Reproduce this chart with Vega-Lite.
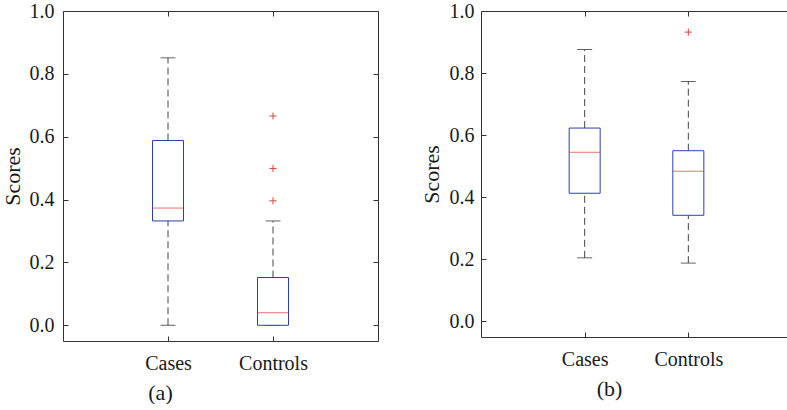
{
  "$schema": "https://vega.github.io/schema/vega-lite/v6.json",
  "padding": {"left": 0, "top": -15, "right": 0, "bottom": 0},
  "spacing": 40,
  "datasets": {
    "boxes": [
      {"panel": "a", "group": "Cases", "lo": 0.0, "q1": 0.332, "median": 0.373, "q3": 0.588, "hi": 0.851},
      {"panel": "a", "group": "Controls", "lo": 0.0, "q1": 0.0, "median": 0.040, "q3": 0.152, "hi": 0.332},
      {"panel": "b", "group": "Cases", "lo": 0.205, "q1": 0.413, "median": 0.545, "q3": 0.623, "hi": 0.876},
      {"panel": "b", "group": "Controls", "lo": 0.188, "q1": 0.342, "median": 0.484, "q3": 0.550, "hi": 0.773}
    ],
    "outliers": [
      {"panel": "a", "group": "Controls", "value": 0.666},
      {"panel": "a", "group": "Controls", "value": 0.499},
      {"panel": "a", "group": "Controls", "value": 0.396},
      {"panel": "b", "group": "Controls", "value": 0.932}
    ]
  },
  "config": {
    "font": "'Liberation Serif', 'Times New Roman', 'DejaVu Serif', serif",
    "view": {"stroke": "#333333", "strokeWidth": 1},
    "title": {"font": "'Liberation Serif', serif"},
    "axis": {
      "domain": false, "grid": false, "tickSize": -5, "tickColor": "#333333",
      "labelFont": "'Liberation Serif', 'Times New Roman', 'DejaVu Serif', serif", "labelFontSize": 20, "labelColor": "#1a1a1a",
      "titleFont": "'Liberation Serif', 'Times New Roman', 'DejaVu Serif', serif", "titleFontWeight": "normal", "titleFontSize": 22, "titleColor": "#1a1a1a"
    }
  },
  "hconcat": [
    {
      "width": 315, "height": 330,
      "title": {"text": " ", "fontSize": 1, "offset": 9},
      "data": {"name": "boxes"},
      "transform": [{"filter": "datum.panel === 'a'"}],
      "resolve": {"axis": {"x": "independent", "y": "independent"}},
      "layer": [
        {
          "mark": {"type": "rule", "color": "#444444", "strokeDash": [7, 4]},
          "encoding": {
            "x": {"field": "group", "type": "nominal", "scale": {"type": "point", "padding": 1, "domain": ["Cases", "Controls"]},
                  "axis": {"orient": "bottom", "title": "(a)", "titleFontSize": 22, "labelAngle": 0, "labelPadding": 17, "titleX": 97, "titlePadding": 9}},
            "y": {"field": "lo", "type": "quantitative", "scale": {"domain": [-0.05, 1.0], "nice": false, "zero": false},
                  "axis": {"orient": "left", "title": "Scores", "values": [0, 0.2, 0.4, 0.6, 0.8, 1.0], "format": ".1f", "labelPadding": 14, "titlePadding": 5}},
            "y2": {"field": "q1"}
          }
        },
        {
          "mark": {"type": "rule", "color": "#444444", "strokeDash": [7, 4]},
          "encoding": {
            "x": {"field": "group", "type": "nominal", "axis": {"orient": "top", "labels": false, "title": null, "minExtent": 0, "maxExtent": 0}},
            "y": {"field": "q3", "type": "quantitative", "axis": {"orient": "right", "labels": false, "title": null, "minExtent": 0, "maxExtent": 0, "values": [0, 0.2, 0.4, 0.6, 0.8, 1.0]}},
            "y2": {"field": "hi"}
          }
        },
        {
          "mark": {"type": "tick", "color": "#222222", "size": 15, "thickness": 1, "orient": "horizontal"},
          "encoding": {
            "x": {"field": "group", "type": "nominal", "axis": null},
            "y": {"field": "lo", "type": "quantitative", "axis": null}
          }
        },
        {
          "mark": {"type": "tick", "color": "#222222", "size": 15, "thickness": 1, "orient": "horizontal"},
          "encoding": {
            "x": {"field": "group", "type": "nominal", "axis": null},
            "y": {"field": "hi", "type": "quantitative", "axis": null}
          }
        },
        {
          "mark": {"type": "bar", "fill": "white", "stroke": "#2c3fae", "strokeWidth": 1, "width": 31},
          "encoding": {
            "x": {"field": "group", "type": "nominal", "axis": null},
            "y": {"field": "q1", "type": "quantitative", "axis": null},
            "y2": {"field": "q3"}
          }
        },
        {
          "mark": {"type": "tick", "color": "#e0352b", "size": 31, "thickness": 1, "orient": "horizontal"},
          "encoding": {
            "x": {"field": "group", "type": "nominal", "axis": null},
            "y": {"field": "median", "type": "quantitative", "axis": null}
          }
        },
        {
          "data": {"name": "outliers"},
          "transform": [{"filter": "datum.panel === 'a'"}],
          "mark": {"type": "point", "shape": "M-1,0L1,0M0,-1L0,1", "stroke": "#e8413c", "strokeWidth": 1, "size": 50, "filled": false, "opacity": 1},
          "encoding": {
            "x": {"field": "group", "type": "nominal", "axis": null},
            "y": {"field": "value", "type": "quantitative", "axis": null}
          }
        }
      ]
    },
    {
      "width": 311, "height": 326,
      "title": {"text": " ", "fontSize": 1, "offset": 14},
      "data": {"name": "boxes"},
      "transform": [{"filter": "datum.panel === 'b'"}],
      "resolve": {"axis": {"x": "independent", "y": "independent"}},
      "layer": [
        {
          "mark": {"type": "rule", "color": "#444444", "strokeDash": [7, 4]},
          "encoding": {
            "x": {"field": "group", "type": "nominal", "scale": {"type": "point", "padding": 1, "domain": ["Cases", "Controls"]},
                  "axis": {"orient": "bottom", "title": "(b)", "titleFontSize": 22, "labelAngle": 0, "labelPadding": 17, "titleX": 128, "titlePadding": 9}},
            "y": {"field": "lo", "type": "quantitative", "scale": {"domain": [-0.05, 1.0], "nice": false, "zero": false},
                  "axis": {"orient": "left", "title": "Scores", "values": [0, 0.2, 0.4, 0.6, 0.8, 1.0], "format": ".1f", "labelPadding": 12, "titlePadding": 6}},
            "y2": {"field": "q1"}
          }
        },
        {
          "mark": {"type": "rule", "color": "#444444", "strokeDash": [7, 4]},
          "encoding": {
            "x": {"field": "group", "type": "nominal", "axis": {"orient": "top", "labels": false, "title": null, "minExtent": 0, "maxExtent": 0}},
            "y": {"field": "q3", "type": "quantitative", "axis": {"orient": "right", "labels": false, "title": null, "minExtent": 0, "maxExtent": 0, "values": [0, 0.2, 0.4, 0.6, 0.8, 1.0]}},
            "y2": {"field": "hi"}
          }
        },
        {
          "mark": {"type": "tick", "color": "#222222", "size": 15, "thickness": 1, "orient": "horizontal"},
          "encoding": {
            "x": {"field": "group", "type": "nominal", "axis": null},
            "y": {"field": "lo", "type": "quantitative", "axis": null}
          }
        },
        {
          "mark": {"type": "tick", "color": "#222222", "size": 15, "thickness": 1, "orient": "horizontal"},
          "encoding": {
            "x": {"field": "group", "type": "nominal", "axis": null},
            "y": {"field": "hi", "type": "quantitative", "axis": null}
          }
        },
        {
          "mark": {"type": "bar", "fill": "white", "stroke": "#2c3fae", "strokeWidth": 1, "width": 31},
          "encoding": {
            "x": {"field": "group", "type": "nominal", "axis": null},
            "y": {"field": "q1", "type": "quantitative", "axis": null},
            "y2": {"field": "q3"}
          }
        },
        {
          "mark": {"type": "tick", "color": "#e0352b", "size": 31, "thickness": 1, "orient": "horizontal"},
          "encoding": {
            "x": {"field": "group", "type": "nominal", "axis": null},
            "y": {"field": "median", "type": "quantitative", "axis": null}
          }
        },
        {
          "data": {"name": "outliers"},
          "transform": [{"filter": "datum.panel === 'b'"}],
          "mark": {"type": "point", "shape": "M-1,0L1,0M0,-1L0,1", "stroke": "#e8413c", "strokeWidth": 1, "size": 50, "filled": false, "opacity": 1},
          "encoding": {
            "x": {"field": "group", "type": "nominal", "axis": null},
            "y": {"field": "value", "type": "quantitative", "axis": null}
          }
        }
      ]
    }
  ]
}
